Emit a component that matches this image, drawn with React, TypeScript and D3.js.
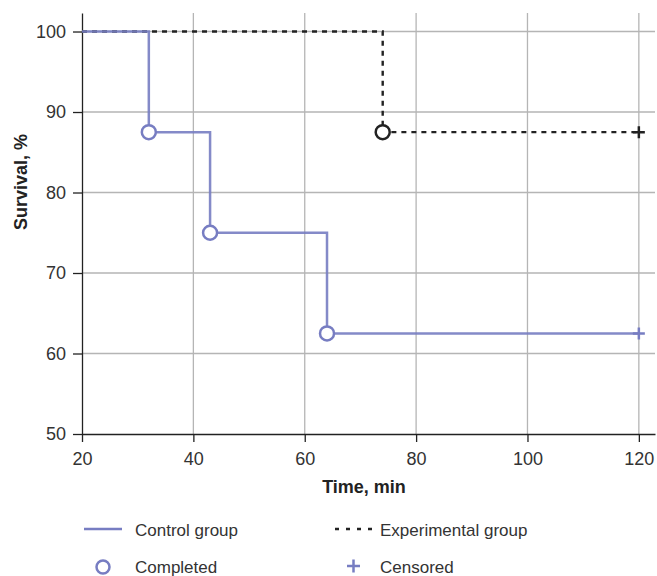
import React, { useEffect, useRef } from "react";
import * as d3 from "d3";

const controlTimes = [20, 32, 43, 64, 120];
const controlSurvival = [100, 87.5, 75, 62.5, 62.5];
const controlCompleted = [32, 43, 64];
const controlCensored = [120];

const expTimes = [20, 74, 120];
const expSurvival = [100, 87.5, 87.5];
const expCompleted = [74];
const expCensored = [120];

const xTicks = [20, 40, 60, 80, 100, 120];
const yTicks = [50, 60, 70, 80, 90, 100];

const BLUE = "#777dc2";
const DARK = "#222";
const FONT = "'Liberation Sans', Arial, sans-serif";

const App = () => {
  const ref = useRef<SVGSVGElement>(null);

  useEffect(() => {
    const svg = d3.select(ref.current);
    svg.selectAll("*").remove();

    const width = 657;
    const height = 576;
    const margin = { top: 13, right: 2, bottom: 142, left: 82 };

    const x = d3.scaleLinear().domain([20, 122.9]).range([margin.left, width - margin.right]);
    const y = d3.scaleLinear().domain([50, 102.3]).range([height - margin.bottom, margin.top]);

    // grid
    const grid = svg.append("g").attr("stroke", "#b5b5b5").attr("stroke-width", 1.3);
    xTicks.slice(1).forEach((t) => {
      grid.append("line").attr("x1", x(t)).attr("x2", x(t)).attr("y1", y.range()[1]).attr("y2", y.range()[0]);
    });
    yTicks.slice(1).forEach((t) => {
      grid.append("line").attr("x1", x.range()[0]).attr("x2", x.range()[1]).attr("y1", y(t)).attr("y2", y(t));
    });

    // axes
    const xAxis = svg
      .append("g")
      .attr("transform", `translate(0,${y(50)})`)
      .call(d3.axisBottom(x).tickValues(xTicks).tickSize(8).tickPadding(10).tickSizeOuter(0));
    const yAxis = svg
      .append("g")
      .attr("transform", `translate(${x(20)},0)`)
      .call(d3.axisLeft(y).tickValues(yTicks).tickSize(9).tickPadding(7).tickSizeOuter(0));
    [xAxis, yAxis].forEach((a) => {
      a.select(".domain").attr("stroke", DARK).attr("stroke-width", 1.3);
      a.selectAll(".tick line").attr("stroke", DARK).attr("stroke-width", 1.3);
      a.selectAll(".tick text").attr("fill", "#333").style("font-size", "18px").style("font-family", FONT);
    });

    svg
      .append("text")
      .attr("x", 364)
      .attr("y", 493)
      .attr("text-anchor", "middle")
      .attr("fill", DARK)
      .style("font-size", "18px")
      .style("font-weight", "bold")
      .style("font-family", FONT)
      .text("Time, min");

    svg
      .append("text")
      .attr("transform", `translate(27,182) rotate(-90)`)
      .attr("text-anchor", "middle")
      .attr("fill", DARK)
      .style("font-size", "18px")
      .style("font-weight", "bold")
      .style("font-family", FONT)
      .text("Survival, %");

    const line = d3
      .line<[number, number]>()
      .x((d) => x(d[0]))
      .y((d) => y(d[1]))
      .curve(d3.curveStepAfter);

    const expData = expTimes.map((t, i) => [t, expSurvival[i]] as [number, number]);
    const ctrlData = controlTimes.map((t, i) => [t, controlSurvival[i]] as [number, number]);

    svg
      .append("path")
      .attr("d", line(expData))
      .attr("fill", "none")
      .attr("stroke", DARK)
      .attr("stroke-width", 2.4)
      .attr("stroke-dasharray", "5,5");

    svg
      .append("path")
      .attr("d", line(ctrlData))
      .attr("fill", "none")
      .attr("stroke", BLUE)
      .attr("stroke-opacity", 0.9)
      .attr("stroke-width", 2.5);

    const survAt = (times: number[], vals: number[], t: number) => {
      const i = d3.bisectRight(times, t) - 1;
      return vals[i];
    };

    const drawCircle = (cx: number, cy: number, color: string) =>
      svg
        .append("circle")
        .attr("cx", cx)
        .attr("cy", cy)
        .attr("r", 7)
        .attr("fill", "white")
        .attr("stroke", color)
        .attr("stroke-width", 2.5);

    const drawPlus = (cx: number, cy: number, color: string, s: number) =>
      svg
        .append("path")
        .attr("d", `M${cx - s},${cy}H${cx + s}M${cx},${cy - s}V${cy + s}`)
        .attr("stroke", color)
        .attr("stroke-width", 2.5);

    controlCompleted.forEach((t) => drawCircle(x(t), y(survAt(controlTimes, controlSurvival, t)), BLUE));
    expCompleted.forEach((t) => drawCircle(x(t), y(survAt(expTimes, expSurvival, t)), DARK));
    controlCensored.forEach((t) => drawPlus(x(t), y(survAt(controlTimes, controlSurvival, t)), BLUE, 6));
    expCensored.forEach((t) => drawPlus(x(t), y(survAt(expTimes, expSurvival, t)), DARK, 6));

    // legend
    const lg = svg.append("g").style("font-family", FONT).style("font-size", "17px");
    lg.append("line").attr("x1", 84).attr("x2", 122).attr("y1", 529).attr("y2", 529).attr("stroke", BLUE).attr("stroke-width", 2.5);
    lg.append("text").attr("x", 135).attr("y", 536).attr("fill", "#333").text("Control group");
    lg.append("line").attr("x1", 335).attr("x2", 372).attr("y1", 529).attr("y2", 529).attr("stroke", DARK).attr("stroke-width", 2.4).attr("stroke-dasharray", "4,7");
    lg.append("text").attr("x", 380).attr("y", 536).attr("fill", "#333").text("Experimental group");
    lg.append("circle").attr("cx", 103).attr("cy", 567).attr("r", 6.5).attr("fill", "white").attr("stroke", BLUE).attr("stroke-width", 2.5);
    lg.append("text").attr("x", 135).attr("y", 573).attr("fill", "#333").text("Completed");
    lg.append("path").attr("d", "M347,566H360M353.5,559.5V572.5").attr("stroke", BLUE).attr("stroke-width", 2.5);
    lg.append("text").attr("x", 380).attr("y", 573).attr("fill", "#333").text("Censored");
  }, []);

  return (
    <svg
      ref={ref}
      width={657}
      height={576}
      style={{ position: "absolute", left: 0, top: 0, background: "white" }}
    />
  );
};

export default App;
